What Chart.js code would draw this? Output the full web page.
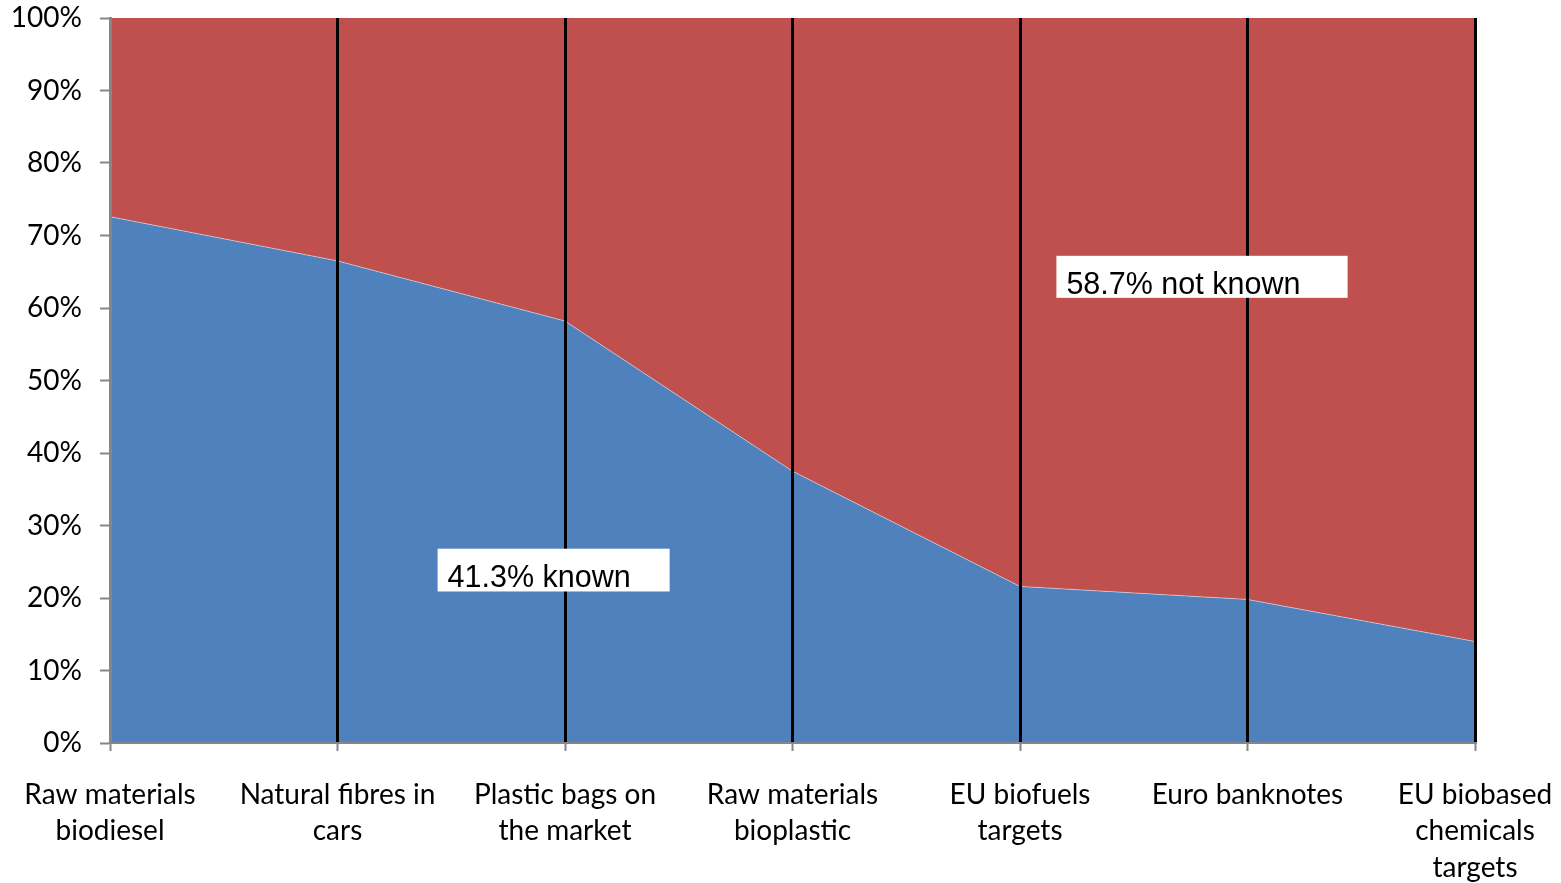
<!DOCTYPE html>
<html>
<head>
<meta charset="utf-8">
<script src="https://cdn.jsdelivr.net/npm/chart.js@4.4.1/dist/chart.umd.min.js"></script>
<style>
  html, body { margin: 0; padding: 0; background: #ffffff; }
  #wrap { width: 1561px; height: 883px; position: relative; }
</style>
</head>
<body>
<div id="wrap"><canvas id="chart" width="1561" height="883"></canvas></div>
<script>
// Categories (multi-line axis labels)
const categories = [
  ['Raw materials', 'biodiesel'],
  ['Natural fibres in', 'cars'],
  ['Plastic bags on', 'the market'],
  ['Raw materials', 'bioplastic'],
  ['EU biofuels', 'targets'],
  ['Euro banknotes'],
  ['EU biobased', 'chemicals', 'targets']
];

// Share of sources that are known, per case (%)
const knownShare = [72.6, 66.5, 58.2, 37.5, 21.6, 19.8, 14.0];
// Remaining share, not known (%)
const notKnownShare = [27.4, 33.5, 41.8, 62.5, 78.4, 80.2, 86.0];

// Summary labels written on the areas
const summaryLabels = ['41.3% known', '58.7% not known'];

const yTicks = [0, 10, 20, 30, 40, 50, 60, 70, 80, 90, 100];

const GREY = '#868686';

// Text boxes placed in data units (category index, percent)
const summaryBoxes = [
  { text: summaryLabels[0], x0: 1.44, x1: 2.46, yTop: 26.8, yBottom: 20.9 },
  { text: summaryLabels[1], x0: 4.16, x1: 5.44, yTop: 67.2, yBottom: 61.4 }
];

const summaryPlugin = {
  id: 'summaryBoxes',
  afterDraw(chart) {
    const { ctx, scales } = chart;
    const xs = scales.x, ys = scales.y;
    ctx.save();
    ctx.font = '30.5px "Liberation Sans", Arial, sans-serif';
    ctx.textBaseline = 'alphabetic';
    ctx.textAlign = 'left';
    summaryBoxes.forEach(b => {
      const left = xs.getPixelForValue(b.x0);
      const right = xs.getPixelForValue(b.x1);
      const top = ys.getPixelForValue(b.yTop);
      const bottom = ys.getPixelForValue(b.yBottom);
      ctx.fillStyle = '#ffffff';
      ctx.fillRect(left, top, right - left, bottom - top);
      ctx.fillStyle = '#000000';
      ctx.fillText(b.text, left + 10, bottom - 4);
    });
    ctx.restore();
  }
};

new Chart(document.getElementById('chart'), {
  type: 'line',
  data: {
    labels: categories,
    datasets: [
      {
        label: 'known',
        data: knownShare,
        backgroundColor: '#4F81BD',
        borderColor: 'rgba(255,255,255,0.45)',
        borderWidth: 1,
        pointRadius: 0,
        fill: 'origin',
        tension: 0
      },
      {
        label: 'not known',
        data: notKnownShare,
        backgroundColor: '#C0504D',
        borderColor: 'rgba(0,0,0,0)',
        borderWidth: 0,
        pointRadius: 0,
        fill: '-1',
        tension: 0
      }
    ]
  },
  options: {
    responsive: false,
    animation: false,
    devicePixelRatio: 1,
    layout: { padding: { top: 18, right: 86, left: 0, bottom: 0 } },
    plugins: {
      legend: { display: false },
      tooltip: { enabled: false },
      filler: { propagate: false }
    },
    scales: {
      x: {
        type: 'category',
        offset: false,
        grid: {
          z: 1,
          color: ctx => (ctx.index === 0 ? 'rgba(0,0,0,0)' : '#000000'),
          lineWidth: 3,
          drawOnChartArea: true,
          drawTicks: true,
          tickLength: 8,
          tickColor: GREY,
          tickWidth: 2
        },
        border: { display: true, color: GREY, width: 2, z: 1 },
        ticks: {
          color: '#000000',
          font: { family: 'Lato, "Open Sans", sans-serif', size: 28, lineHeight: 1.32 },
          padding: 25,
          maxRotation: 0,
          autoSkip: false
        },
        afterFit(scale) {
          scale.height = 140;
          scale.paddingLeft = 0;
          scale.paddingRight = 0;
        }
      },
      y: {
        stacked: true,
        min: 0,
        max: 100,
        afterBuildTicks(scale) { scale.ticks = yTicks.map(v => ({ value: v })); },
        grid: {
          drawOnChartArea: false,
          drawTicks: true,
          tickLength: 10,
          tickColor: GREY,
          tickWidth: 2
        },
        border: { display: true, color: GREY, width: 3, z: 1 },
        ticks: {
          color: '#000000',
          font: { family: 'Lato, "Open Sans", sans-serif', size: 28 },
          padding: 18,
          callback: v => v + '%'
        },
        afterFit(scale) {
          scale.width = 110;
          scale.paddingTop = 0;
          scale.paddingBottom = 0;
        }
      }
    }
  },
  plugins: [summaryPlugin]
});
</script>
</body>
</html>
